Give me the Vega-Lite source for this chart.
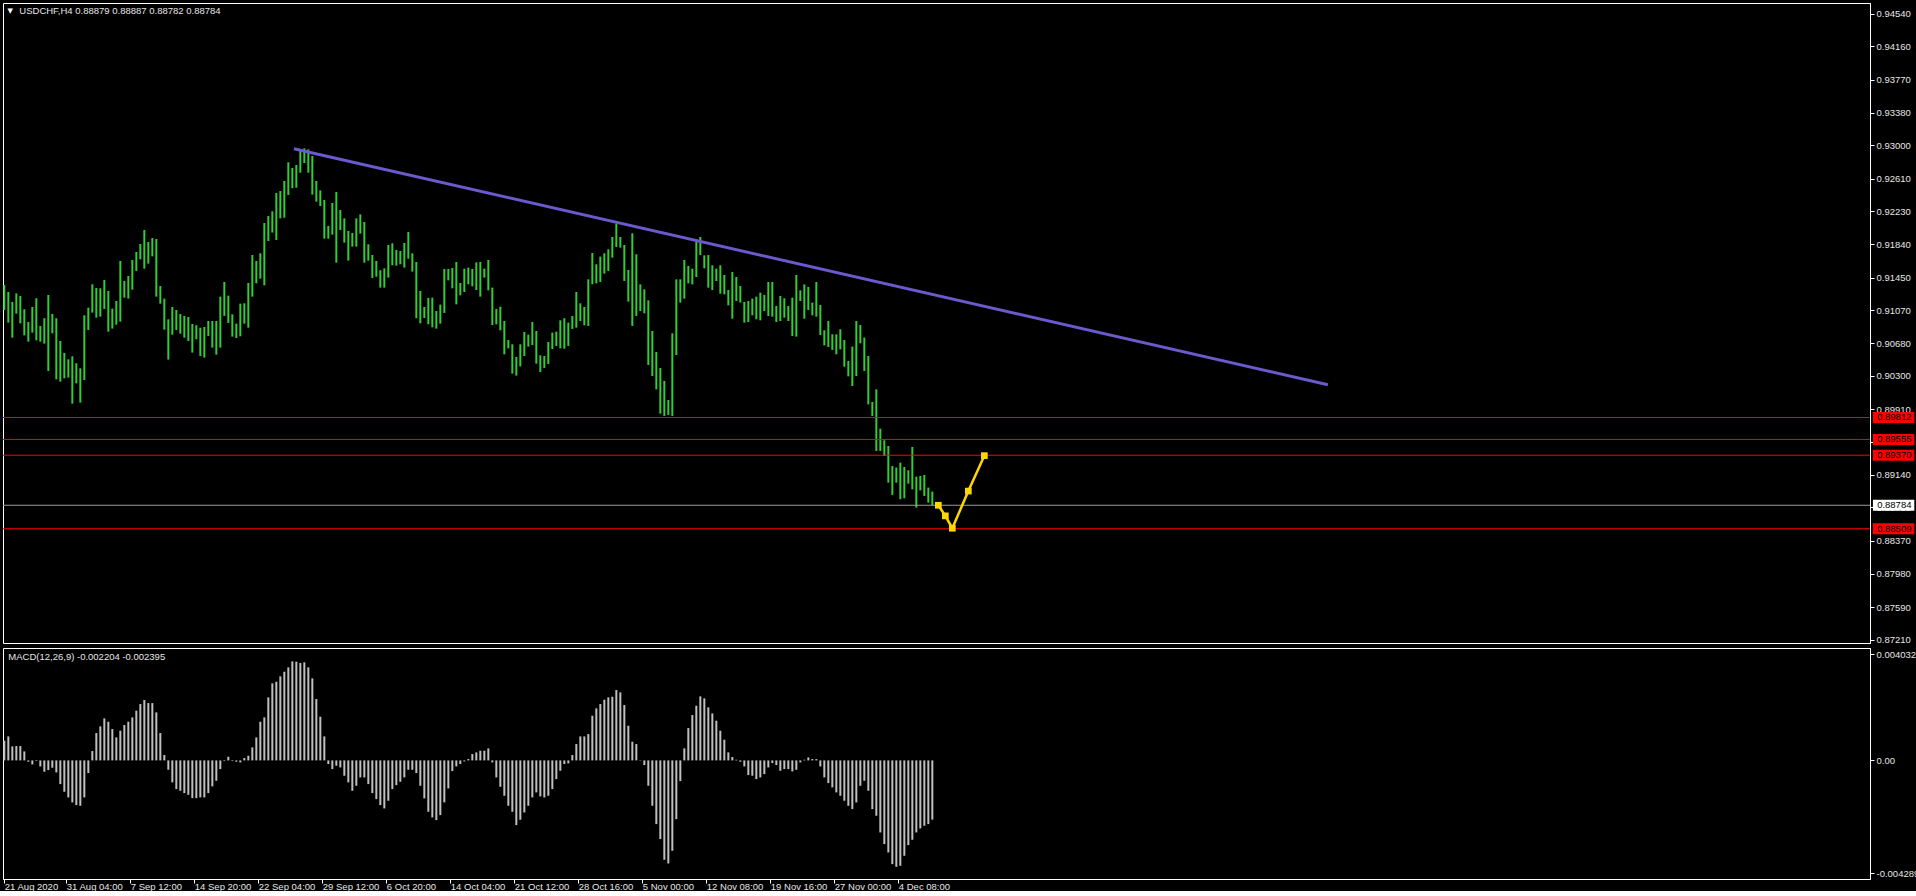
{
"$schema": "https://vega.github.io/schema/vega-lite/v6.json",
"background": "#000000",
"padding": {"left": 2, "top": 2, "right": 0, "bottom": 0},
"spacing": 2,
"config": {
  "font": "Liberation Sans",
  "view": {"stroke": "#ffffff", "strokeWidth": 1},
  "axis": {"domainColor": "#ffffff", "tickColor": "#ffffff", "labelColor": "#e6e6e6", "labelFont": "Liberation Sans", "labelFontSize": 9.5, "grid": false, "title": null, "tickSize": 4, "labelOverlap": false, "labelFlush": false}
},
"datasets": {
"bars": [
{"n":0,"lo":0.91071,"hi":0.91364},{"n":2,"lo":0.90923,"hi":0.91282},{"n":4,"lo":0.90747,"hi":0.91165},{"n":6,"lo":0.91028,"hi":0.91266},{"n":8,"lo":0.90915,"hi":0.91235},{"n":10,"lo":0.90774,"hi":0.91079},{"n":12,"lo":0.90700,"hi":0.90931},{"n":14,"lo":0.90806,"hi":0.91106},{"n":16,"lo":0.90716,"hi":0.91208},{"n":18,"lo":0.90700,"hi":0.90884},
{"n":20,"lo":0.90677,"hi":0.90974},{"n":22,"lo":0.90357,"hi":0.91247},{"n":24,"lo":0.90798,"hi":0.91024},{"n":26,"lo":0.90259,"hi":0.90974},{"n":28,"lo":0.90232,"hi":0.90708},{"n":30,"lo":0.90271,"hi":0.90568},{"n":32,"lo":0.90279,"hi":0.90493},{"n":34,"lo":0.89974,"hi":0.90529},{"n":36,"lo":0.90212,"hi":0.90447},{"n":38,"lo":0.89986,"hi":0.90388},
{"n":40,"lo":0.90251,"hi":0.91009},{"n":42,"lo":0.90837,"hi":0.91098},{"n":44,"lo":0.91040,"hi":0.91372},{"n":46,"lo":0.90981,"hi":0.91329},{"n":48,"lo":0.90993,"hi":0.91325},{"n":50,"lo":0.91083,"hi":0.91422},{"n":52,"lo":0.90817,"hi":0.91294},{"n":54,"lo":0.90853,"hi":0.91087},{"n":56,"lo":0.90899,"hi":0.91176},{"n":58,"lo":0.90934,"hi":0.91645},
{"n":60,"lo":0.91215,"hi":0.91411},{"n":62,"lo":0.91204,"hi":0.91469},{"n":64,"lo":0.91309,"hi":0.91657},{"n":66,"lo":0.91528,"hi":0.91750},{"n":68,"lo":0.91664,"hi":0.91844},{"n":70,"lo":0.91555,"hi":0.92008},{"n":72,"lo":0.91614,"hi":0.91867},{"n":74,"lo":0.91699,"hi":0.91914},{"n":76,"lo":0.91227,"hi":0.91902},{"n":78,"lo":0.91145,"hi":0.91352},
{"n":80,"lo":0.90841,"hi":0.91204},{"n":82,"lo":0.90490,"hi":0.90962},{"n":84,"lo":0.90782,"hi":0.91106},{"n":86,"lo":0.90837,"hi":0.91071},{"n":88,"lo":0.90794,"hi":0.91024},{"n":90,"lo":0.90747,"hi":0.91001},{"n":92,"lo":0.90708,"hi":0.90989},{"n":94,"lo":0.90572,"hi":0.90907},{"n":96,"lo":0.90728,"hi":0.90892},{"n":98,"lo":0.90532,"hi":0.90864},
{"n":100,"lo":0.90513,"hi":0.90872},{"n":102,"lo":0.90767,"hi":0.90942},{"n":104,"lo":0.90630,"hi":0.90942},{"n":106,"lo":0.90548,"hi":0.90942},{"n":108,"lo":0.90630,"hi":0.91227},{"n":110,"lo":0.91001,"hi":0.91399},{"n":112,"lo":0.90919,"hi":0.91239},{"n":114,"lo":0.90759,"hi":0.91020},{"n":116,"lo":0.90743,"hi":0.90911},{"n":118,"lo":0.90763,"hi":0.91145},
{"n":120,"lo":0.90911,"hi":0.91149},{"n":122,"lo":0.90864,"hi":0.91387},{"n":124,"lo":0.91227,"hi":0.91715},{"n":126,"lo":0.91383,"hi":0.91645},{"n":128,"lo":0.91438,"hi":0.91735},{"n":130,"lo":0.91360,"hi":0.92090},{"n":132,"lo":0.91879,"hi":0.92172},{"n":134,"lo":0.91977,"hi":0.92226},{"n":136,"lo":0.91891,"hi":0.92441},{"n":138,"lo":0.92144,"hi":0.92464},
{"n":140,"lo":0.92152,"hi":0.92582},{"n":142,"lo":0.92418,"hi":0.92800},{"n":144,"lo":0.92496,"hi":0.92734},{"n":146,"lo":0.92503,"hi":0.92769},{"n":148,"lo":0.92679,"hi":0.92945},{"n":150,"lo":0.92792,"hi":0.92964},{"n":152,"lo":0.92679,"hi":0.92952},{"n":154,"lo":0.92422,"hi":0.92874},{"n":156,"lo":0.92340,"hi":0.92582},{"n":158,"lo":0.92289,"hi":0.92472},
{"n":160,"lo":0.91906,"hi":0.92359},{"n":162,"lo":0.91906,"hi":0.92055},{"n":164,"lo":0.91953,"hi":0.92324},{"n":166,"lo":0.91625,"hi":0.92453},{"n":168,"lo":0.92008,"hi":0.92242},{"n":170,"lo":0.91859,"hi":0.92144},{"n":172,"lo":0.91649,"hi":0.91996},{"n":174,"lo":0.91813,"hi":0.91973},{"n":176,"lo":0.91813,"hi":0.92144},{"n":178,"lo":0.91965,"hi":0.92191},
{"n":180,"lo":0.91625,"hi":0.92101},{"n":182,"lo":0.91649,"hi":0.91840},{"n":184,"lo":0.91446,"hi":0.91715},{"n":186,"lo":0.91461,"hi":0.91645},{"n":188,"lo":0.91333,"hi":0.91536},{"n":190,"lo":0.91333,"hi":0.91559},{"n":192,"lo":0.91450,"hi":0.91832},{"n":194,"lo":0.91594,"hi":0.91852},{"n":196,"lo":0.91590,"hi":0.91774},{"n":198,"lo":0.91606,"hi":0.91762},
{"n":200,"lo":0.91567,"hi":0.91856},{"n":202,"lo":0.91672,"hi":0.91984},{"n":204,"lo":0.91520,"hi":0.91735},{"n":206,"lo":0.90974,"hi":0.91633},{"n":208,"lo":0.90915,"hi":0.91294},{"n":210,"lo":0.90977,"hi":0.91106},{"n":212,"lo":0.90903,"hi":0.91212},{"n":214,"lo":0.90868,"hi":0.91215},{"n":216,"lo":0.90853,"hi":0.91059},{"n":218,"lo":0.90911,"hi":0.91134},
{"n":220,"lo":0.91036,"hi":0.91551},{"n":222,"lo":0.91418,"hi":0.91551},{"n":224,"lo":0.91325,"hi":0.91563},{"n":226,"lo":0.91137,"hi":0.91633},{"n":228,"lo":0.91243,"hi":0.91387},{"n":230,"lo":0.91282,"hi":0.91555},{"n":232,"lo":0.91372,"hi":0.91567},{"n":234,"lo":0.91348,"hi":0.91551},{"n":236,"lo":0.91305,"hi":0.91629},{"n":238,"lo":0.91227,"hi":0.91633},
{"n":240,"lo":0.91450,"hi":0.91555},{"n":242,"lo":0.91301,"hi":0.91657},{"n":244,"lo":0.90895,"hi":0.91333},{"n":246,"lo":0.90903,"hi":0.91083},{"n":248,"lo":0.90833,"hi":0.91110},{"n":250,"lo":0.90552,"hi":0.90942},{"n":252,"lo":0.90622,"hi":0.90720},{"n":254,"lo":0.90326,"hi":0.90669},{"n":256,"lo":0.90302,"hi":0.90521},{"n":258,"lo":0.90411,"hi":0.90669},
{"n":260,"lo":0.90532,"hi":0.90814},{"n":262,"lo":0.90642,"hi":0.90782},{"n":264,"lo":0.90661,"hi":0.90931},{"n":266,"lo":0.90443,"hi":0.90825},{"n":268,"lo":0.90345,"hi":0.90540},{"n":270,"lo":0.90392,"hi":0.90532},{"n":272,"lo":0.90439,"hi":0.90696},{"n":274,"lo":0.90614,"hi":0.90806},{"n":276,"lo":0.90650,"hi":0.90817},{"n":278,"lo":0.90622,"hi":0.90950},
{"n":280,"lo":0.90618,"hi":0.90974},{"n":282,"lo":0.90650,"hi":0.90923},{"n":284,"lo":0.90849,"hi":0.91001},{"n":286,"lo":0.90864,"hi":0.91282},{"n":288,"lo":0.90942,"hi":0.91149},{"n":290,"lo":0.90892,"hi":0.91106},{"n":292,"lo":0.90884,"hi":0.91430},{"n":294,"lo":0.91372,"hi":0.91738},{"n":296,"lo":0.91383,"hi":0.91606},{"n":298,"lo":0.91399,"hi":0.91696},
{"n":300,"lo":0.91497,"hi":0.91735},{"n":302,"lo":0.91528,"hi":0.91781},{"n":304,"lo":0.91684,"hi":0.91926},{"n":306,"lo":0.91809,"hi":0.92082},{"n":308,"lo":0.91801,"hi":0.91926},{"n":310,"lo":0.91411,"hi":0.91832},{"n":312,"lo":0.91169,"hi":0.91539},{"n":314,"lo":0.90884,"hi":0.91969},{"n":316,"lo":0.91001,"hi":0.91723},{"n":318,"lo":0.91059,"hi":0.91371},
{"n":320,"lo":0.91032,"hi":0.91313},{"n":322,"lo":0.90427,"hi":0.91184},{"n":324,"lo":0.90298,"hi":0.90825},{"n":326,"lo":0.90142,"hi":0.90579},{"n":328,"lo":0.89857,"hi":0.90392},{"n":330,"lo":0.89830,"hi":0.90240},{"n":332,"lo":0.89841,"hi":0.90017},{"n":334,"lo":0.89830,"hi":0.90798},{"n":336,"lo":0.90544,"hi":0.91430},{"n":338,"lo":0.91157,"hi":0.91430},
{"n":340,"lo":0.91204,"hi":0.91656},{"n":342,"lo":0.91383,"hi":0.91586},{"n":344,"lo":0.91371,"hi":0.91555},{"n":346,"lo":0.91457,"hi":0.91871},{"n":348,"lo":0.91715,"hi":0.91926},{"n":350,"lo":0.91559,"hi":0.91711},{"n":352,"lo":0.91332,"hi":0.91715},{"n":354,"lo":0.91305,"hi":0.91594},{"n":356,"lo":0.91410,"hi":0.91555},{"n":358,"lo":0.91262,"hi":0.91594},
{"n":360,"lo":0.91254,"hi":0.91481},{"n":362,"lo":0.91126,"hi":0.91305},{"n":364,"lo":0.90969,"hi":0.91516},{"n":366,"lo":0.91176,"hi":0.91457},{"n":368,"lo":0.91157,"hi":0.91352},{"n":370,"lo":0.90923,"hi":0.91165},{"n":372,"lo":0.90930,"hi":0.91176},{"n":374,"lo":0.91008,"hi":0.91204},{"n":376,"lo":0.90962,"hi":0.91227},{"n":378,"lo":0.90950,"hi":0.91274},
{"n":380,"lo":0.91059,"hi":0.91247},{"n":382,"lo":0.91001,"hi":0.91399},{"n":384,"lo":0.90993,"hi":0.91399},{"n":386,"lo":0.90930,"hi":0.91118},{"n":388,"lo":0.90942,"hi":0.91235},{"n":390,"lo":0.90981,"hi":0.91208},{"n":392,"lo":0.90942,"hi":0.91118},{"n":394,"lo":0.90766,"hi":0.91215},{"n":396,"lo":0.90759,"hi":0.91481},{"n":398,"lo":0.91176,"hi":0.91301},
{"n":400,"lo":0.90969,"hi":0.91371},{"n":402,"lo":0.91071,"hi":0.91340},{"n":404,"lo":0.91008,"hi":0.91157},{"n":406,"lo":0.90993,"hi":0.91399},{"n":408,"lo":0.90778,"hi":0.91129},{"n":410,"lo":0.90657,"hi":0.90833},{"n":412,"lo":0.90638,"hi":0.90942},{"n":414,"lo":0.90603,"hi":0.90786},{"n":416,"lo":0.90552,"hi":0.90786},{"n":418,"lo":0.90610,"hi":0.90845},
{"n":420,"lo":0.90407,"hi":0.90720},{"n":422,"lo":0.90294,"hi":0.90474},{"n":424,"lo":0.90181,"hi":0.90642},{"n":426,"lo":0.90298,"hi":0.90942},{"n":428,"lo":0.90681,"hi":0.90895},{"n":430,"lo":0.90357,"hi":0.90747},{"n":432,"lo":0.89966,"hi":0.90532},{"n":434,"lo":0.89830,"hi":0.89994},{"n":436,"lo":0.89420,"hi":0.90142},{"n":438,"lo":0.89420,"hi":0.89681},
{"n":440,"lo":0.89361,"hi":0.89545},{"n":442,"lo":0.89049,"hi":0.89478},{"n":444,"lo":0.88905,"hi":0.89244},{"n":446,"lo":0.89049,"hi":0.89225},{"n":448,"lo":0.88854,"hi":0.89283},{"n":450,"lo":0.88866,"hi":0.89233},{"n":452,"lo":0.89037,"hi":0.89194},{"n":454,"lo":0.88971,"hi":0.89467},{"n":456,"lo":0.88756,"hi":0.89119},{"n":458,"lo":0.88959,"hi":0.89127},
{"n":460,"lo":0.88893,"hi":0.89139},{"n":462,"lo":0.88815,"hi":0.88991},{"n":464,"lo":0.88782,"hi":0.88944}
],
"macd": [
{"n":0,"m":0.000748},{"n":2,"m":0.000912},{"n":4,"m":0.000532},{"n":6,"m":0.000545},{"n":8,"m":0.000545},{"n":10,"m":0.000342},{"n":12,"m":-0.000051},{"n":14,"m":-0.000152},{"n":16,"m":-0.000025},{"n":18,"m":-0.000228},
{"n":20,"m":-0.000431},{"n":22,"m":-0.000367},{"n":24,"m":-0.000279},{"n":26,"m":-0.000456},{"n":28,"m":-0.000900},{"n":30,"m":-0.001191},{"n":32,"m":-0.001406},{"n":34,"m":-0.001596},{"n":36,"m":-0.001698},{"n":38,"m":-0.001723},
{"n":40,"m":-0.001406},{"n":42,"m":-0.000481},{"n":44,"m":0.000355},{"n":46,"m":0.001039},{"n":48,"m":0.001292},{"n":50,"m":0.001596},{"n":52,"m":0.001470},{"n":54,"m":0.001191},{"n":56,"m":0.000874},{"n":58,"m":0.001128},
{"n":60,"m":0.001343},{"n":62,"m":0.001470},{"n":64,"m":0.001634},{"n":66,"m":0.001888},{"n":68,"m":0.002141},{"n":70,"m":0.002293},{"n":72,"m":0.002179},{"n":74,"m":0.002179},{"n":76,"m":0.001824},{"n":78,"m":0.001039},
{"n":80,"m":0.000203},{"n":82,"m":-0.000355},{"n":84,"m":-0.000836},{"n":86,"m":-0.001090},{"n":88,"m":-0.001153},{"n":90,"m":-0.001242},{"n":92,"m":-0.001305},{"n":94,"m":-0.001432},{"n":96,"m":-0.001432},{"n":98,"m":-0.001406},
{"n":100,"m":-0.001406},{"n":102,"m":-0.001242},{"n":104,"m":-0.000988},{"n":106,"m":-0.000773},{"n":108,"m":-0.000329},{"n":110,"m":-0.000025},{"n":112,"m":0.000139},{"n":114,"m":-0.000025},{"n":116,"m":-0.000051},{"n":118,"m":-0.000076},
{"n":120,"m":0.000089},{"n":122,"m":0.000177},{"n":124,"m":0.000494},{"n":126,"m":0.000874},{"n":128,"m":0.001470},{"n":130,"m":0.001634},{"n":132,"m":0.002395},{"n":134,"m":0.002927},{"n":136,"m":0.002990},{"n":138,"m":0.003193},
{"n":140,"m":0.003370},{"n":142,"m":0.003535},{"n":144,"m":0.003763},{"n":146,"m":0.003750},{"n":148,"m":0.003700},{"n":150,"m":0.003725},{"n":152,"m":0.003535},{"n":154,"m":0.003117},{"n":156,"m":0.002331},{"n":158,"m":0.001660},
{"n":160,"m":0.000912},{"n":162,"m":-0.000139},{"n":164,"m":-0.000329},{"n":166,"m":-0.000203},{"n":168,"m":-0.000266},{"n":170,"m":-0.000583},{"n":172,"m":-0.000836},{"n":174,"m":-0.001153},{"n":176,"m":-0.000963},{"n":178,"m":-0.000646},
{"n":180,"m":-0.000646},{"n":182,"m":-0.000900},{"n":184,"m":-0.001242},{"n":186,"m":-0.001470},{"n":188,"m":-0.001698},{"n":190,"m":-0.001824},{"n":192,"m":-0.001533},{"n":194,"m":-0.001090},{"n":196,"m":-0.000938},{"n":198,"m":-0.000811},
{"n":200,"m":-0.000646},{"n":202,"m":-0.000355},{"n":204,"m":-0.000355},{"n":206,"m":-0.000481},{"n":208,"m":-0.000963},{"n":210,"m":-0.001444},{"n":212,"m":-0.001951},{"n":214,"m":-0.002167},{"n":216,"m":-0.002268},{"n":218,"m":-0.002078},
{"n":220,"m":-0.001596},{"n":222,"m":-0.001064},{"n":224,"m":-0.000405},{"n":226,"m":-0.000228},{"n":228,"m":-0.000139},{"n":230,"m":-0.000038},{"n":232,"m":0.000051},{"n":234,"m":0.000241},{"n":236,"m":0.000304},{"n":238,"m":0.000367},
{"n":240,"m":0.000367},{"n":242,"m":0.000456},{"n":244,"m":-0.000076},{"n":246,"m":-0.000646},{"n":248,"m":-0.001001},{"n":250,"m":-0.001343},{"n":252,"m":-0.001723},{"n":254,"m":-0.001951},{"n":256,"m":-0.002458},{"n":258,"m":-0.002255},
{"n":260,"m":-0.001977},{"n":262,"m":-0.001723},{"n":264,"m":-0.001406},{"n":266,"m":-0.001216},{"n":268,"m":-0.001368},{"n":270,"m":-0.001406},{"n":272,"m":-0.001343},{"n":274,"m":-0.001090},{"n":276,"m":-0.000710},{"n":278,"m":-0.000393},
{"n":280,"m":-0.000139},{"n":282,"m":-0.000114},{"n":284,"m":0.000203},{"n":286,"m":0.000621},{"n":288,"m":0.000912},{"n":290,"m":0.000912},{"n":292,"m":0.001001},{"n":294,"m":0.001698},{"n":296,"m":0.001977},{"n":298,"m":0.002141},
{"n":300,"m":0.002306},{"n":302,"m":0.002395},{"n":304,"m":0.002420},{"n":306,"m":0.002673},{"n":308,"m":0.002585},{"n":310,"m":0.002103},{"n":312,"m":0.001318},{"n":314,"m":0.000710},{"n":316,"m":0.000621},{"n":318,"m":-0.000013},
{"n":320,"m":-0.000177},{"n":322,"m":-0.000963},{"n":324,"m":-0.001723},{"n":326,"m":-0.002420},{"n":328,"m":-0.002990},{"n":330,"m":-0.003776},{"n":332,"m":-0.003915},{"n":334,"m":-0.003434},{"n":336,"m":-0.002230},{"n":338,"m":-0.000786},
{"n":340,"m":0.000456},{"n":342,"m":0.001229},{"n":344,"m":0.001723},{"n":346,"m":0.002078},{"n":348,"m":0.002433},{"n":350,"m":0.002357},{"n":352,"m":0.002015},{"n":354,"m":0.001786},{"n":356,"m":0.001508},{"n":358,"m":0.001128},
{"n":360,"m":0.000786},{"n":362,"m":0.000304},{"n":364,"m":0.000127},{"n":366,"m":0.000025},{"n":368,"m":-0.000051},{"n":370,"m":-0.000228},{"n":372,"m":-0.000557},{"n":374,"m":-0.000583},{"n":376,"m":-0.000710},{"n":378,"m":-0.000646},
{"n":380,"m":-0.000519},{"n":382,"m":-0.000266},{"n":384,"m":-0.000101},{"n":386,"m":-0.000177},{"n":388,"m":-0.000393},{"n":390,"m":-0.000329},{"n":392,"m":-0.000329},{"n":394,"m":-0.000418},{"n":396,"m":-0.000355},{"n":398,"m":-0.000076},
{"n":400,"m":0.000025},{"n":402,"m":0.000114},{"n":404,"m":0.000051},{"n":406,"m":0.000051},{"n":408,"m":-0.000228},{"n":410,"m":-0.000646},{"n":412,"m":-0.000862},{"n":414,"m":-0.001026},{"n":416,"m":-0.001216},{"n":418,"m":-0.001343},
{"n":420,"m":-0.001533},{"n":422,"m":-0.001723},{"n":424,"m":-0.001850},{"n":426,"m":-0.001596},{"n":428,"m":-0.000963},{"n":430,"m":-0.000773},{"n":432,"m":-0.001153},{"n":434,"m":-0.001850},{"n":436,"m":-0.002103},{"n":438,"m":-0.002737},
{"n":440,"m":-0.003180},{"n":442,"m":-0.003497},{"n":444,"m":-0.003940},{"n":446,"m":-0.004042},{"n":448,"m":-0.004004},{"n":450,"m":-0.003624},{"n":452,"m":-0.003218},{"n":454,"m":-0.003015},{"n":456,"m":-0.002737},{"n":458,"m":-0.002585},
{"n":460,"m":-0.002483},{"n":462,"m":-0.002420},{"n":464,"m":-0.002250}
],
"levels": [
{"price":0.89812,"kind":"level"},{"price":0.89555,"kind":"level"},{"price":0.89370,"kind":"level"},{"price":0.88509,"kind":"level"},{"price":0.88784,"kind":"bid"}
],
"trend": [{"n1":144.8,"p1":0.92960,"n2":661.8,"p2":0.90196}],
"proj": [
{"n":467,"price":0.88784},{"n":470.5,"price":0.88660},{"n":474,"price":0.88515},{"n":482,"price":0.88950},{"n":490,"price":0.89365}
]
},
"vconcat": [
{
"width": 1867,
"height": 640,
"layer": [
{"data": {"name": "bars"}, "mark": {"type": "rule", "color": "#32cd32", "strokeWidth": 2},
 "encoding": {
  "x": {"field": "n", "type": "quantitative", "scale": {"domain": [-0.665, 932.835], "nice": false, "zero": false}, "axis": null},
  "y": {"field": "lo", "type": "quantitative", "scale": {"domain": [0.87171, 0.94666], "nice": false, "zero": false},
        "axis": {"orient": "right", "values": [0.9454,0.9416,0.9377,0.9338,0.93,0.9261,0.9223,0.9184,0.9145,0.9107,0.9068,0.903,0.8991,0.8953,0.8914,0.8876,0.8837,0.8798,0.8759,0.8721], "tickCount": 40, "format": ".5f", "labelPadding": 2, "labelOverlap": false, "labelFlush": false}},
  "y2": {"field": "hi"}
 }},
{"data": {"name": "levels"}, "transform": [{"filter": "datum.kind == 'level'"}], "mark": {"type": "rule", "strokeWidth": 1, "color": "#ff0000"},
 "encoding": {
  "y": {"field": "price", "type": "quantitative"}
 }},
{"data": {"name": "levels"}, "transform": [{"filter": "datum.kind == 'bid'"}], "mark": {"type": "rule", "strokeWidth": 1, "color": "#9a9a9a"},
 "encoding": {
  "y": {"field": "price", "type": "quantitative"}
 }},
{"data": {"name": "trend"}, "mark": {"type": "rule", "color": "#6a5acd", "strokeWidth": 3},
 "encoding": {
  "x": {"field": "n1", "type": "quantitative"}, "x2": {"field": "n2"},
  "y": {"field": "p1", "type": "quantitative"}, "y2": {"field": "p2"}
 }},
{"data": {"name": "proj"}, "mark": {"type": "line", "color": "#ffd700", "strokeWidth": 2.5, "point": {"shape": "square", "size": 45, "filled": true, "color": "#ffd700", "opacity": 1}},
 "encoding": {
  "x": {"field": "n", "type": "quantitative"},
  "y": {"field": "price", "type": "quantitative"}
 }},
{"data": {"name": "levels"}, "transform": [{"filter": "datum.kind == 'level'"}], "mark": {"type": "rule", "strokeWidth": 11, "strokeCap": "butt", "color": "#ff0000"},
 "encoding": {
  "x": {"datum": 934.3}, "x2": {"datum": 955},
  "y": {"field": "price", "type": "quantitative"}
 }},
{"data": {"name": "levels"}, "transform": [{"filter": "datum.kind == 'bid'"}], "mark": {"type": "rule", "strokeWidth": 11, "strokeCap": "butt", "color": "#ffffff"},
 "encoding": {
  "x": {"datum": 934.3}, "x2": {"datum": 955},
  "y": {"field": "price", "type": "quantitative"}
 }},
{"data": {"name": "levels"}, "mark": {"type": "text", "align": "left", "baseline": "middle", "fontSize": 9.5, "color": "#000000"},
 "encoding": {
  "x": {"datum": 936.4},
  "y": {"field": "price", "type": "quantitative"},
  "text": {"field": "price", "type": "quantitative", "format": ".5f"}
 }},
{"data": {"values": [{"label": "▼"}]}, "mark": {"type": "text", "align": "left", "baseline": "middle", "fontSize": 7, "font": "DejaVu Sans", "color": "#ffffff"},
 "encoding": {
  "x": {"datum": 1.6},
  "y": {"datum": 0.94572},
  "text": {"field": "label"}
 }},
{"data": {"values": [{"label": "USDCHF,H4  0.88879 0.88887 0.88782 0.88784"}]}, "mark": {"type": "text", "align": "left", "baseline": "middle", "fontSize": 9.5, "color": "#e6e6e6"},
 "encoding": {
  "x": {"datum": 7.5},
  "y": {"datum": 0.94572},
  "text": {"field": "label"}
 }}
]
},
{
"width": 1867,
"height": 231,
"layer": [
{"data": {"name": "macd"},
 "mark": {"type": "rule", "color": "#c0c0c0", "strokeWidth": 2},
 "encoding": {
  "x": {"field": "n", "type": "quantitative", "scale": {"domain": [-0.665, 932.835], "nice": false, "zero": false},
        "axis": {"values": [0,31,63,95,127,159,191,223,255,287,319,351,383,415,447], "tickCount": 60,
                 "labelExpr": "['21 Aug 2020','31 Aug 04:00','7 Sep 12:00','14 Sep 20:00','22 Sep 04:00','29 Sep 12:00','6 Oct 20:00','14 Oct 04:00','21 Oct 12:00','28 Oct 16:00','5 Nov 00:00','12 Nov 08:00','19 Nov 16:00','27 Nov 00:00','4 Dec 08:00'][indexof([0,31,63,95,127,159,191,223,255,287,319,351,383,415,447], datum.value)]",
                 "labelAlign": "left", "labelPadding": -2, "labelFlush": false, "labelOverlap": false}},
  "y": {"field": "m", "type": "quantitative", "scale": {"domain": [-0.004506, 0.004271], "nice": false, "zero": false},
        "axis": {"orient": "right", "values": [0.004032, 0, -0.004289], "tickCount": 10, "labelExpr": "datum.value > 0 ? '0.004032' : (datum.value < 0 ? '-0.004289' : '0.00')", "labelPadding": 2, "labelFlush": false, "labelOverlap": false}},
  "y2": {"datum": 0}
 }},
{"data": {"values": [{"label": "MACD(12,26,9) -0.002204 -0.002395"}]}, "mark": {"type": "text", "align": "left", "baseline": "middle", "fontSize": 9.5, "color": "#e6e6e6"},
 "encoding": {
  "x": {"datum": 2.0},
  "y": {"datum": 0.00394},
  "text": {"field": "label"}
 }}
]
}
]
}
